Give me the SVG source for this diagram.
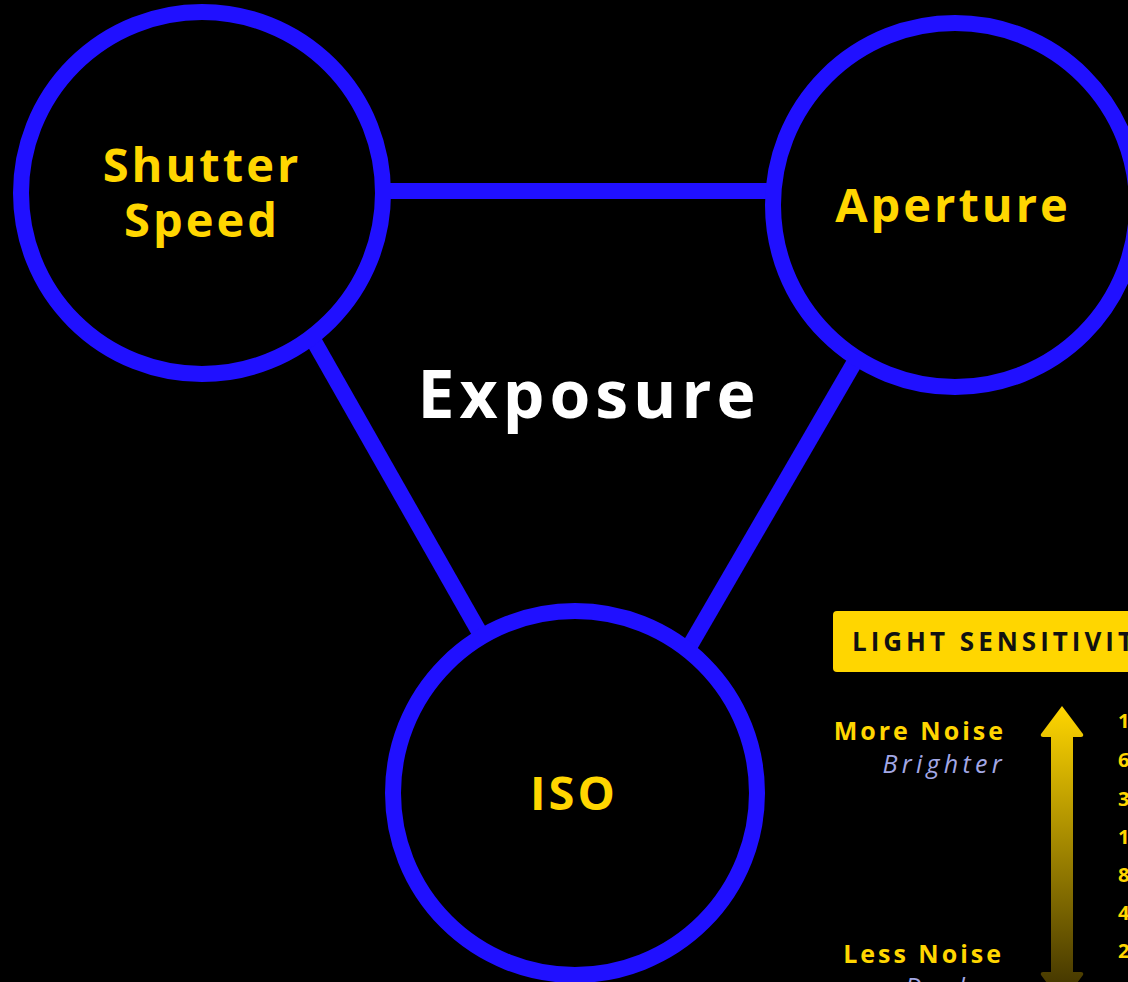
<svg xmlns="http://www.w3.org/2000/svg" width="1128" height="982" viewBox="0 0 1128 982">
<defs>
<style>
.ring{fill:#000;stroke:#2010FF;stroke-width:16}
.conn{stroke:#2010FF;stroke-width:16;fill:none}
.lbl{font-family:"Open Sans","Noto Sans",sans-serif;font-weight:700;fill:#FFD600;font-size:47px;letter-spacing:3px;text-anchor:middle}
.title{font-family:"Open Sans","Noto Sans",sans-serif;font-weight:700;fill:#fff;font-size:66px;letter-spacing:5px;text-anchor:middle}
.hdr{font-family:"Open Sans","Noto Sans",sans-serif;font-weight:700;fill:#111;font-size:26px;letter-spacing:4px}
.side{font-family:"Open Sans","Noto Sans",sans-serif;font-weight:700;fill:#FFD600;font-size:25px;letter-spacing:3px;text-anchor:end}
.sub{font-family:"Open Sans","Noto Sans",sans-serif;font-style:italic;font-weight:400;fill:#A3A8E6;font-size:25px;letter-spacing:4.3px;text-anchor:end}
.num{font-family:"Open Sans","Noto Sans",sans-serif;font-weight:700;fill:#FFD600;font-size:20px}
</style>
<linearGradient id="ag" x1="0" y1="0" x2="0" y2="1">
<stop offset="0" stop-color="#FFD600"/>
<stop offset="1" stop-color="#3A2E00"/>
</linearGradient>
</defs>
<rect width="1128" height="982" fill="#000"/>
<g id="connectors">
<line class="conn" x1="380" y1="191" x2="776" y2="191"/>
<line class="conn" x1="311" y1="336" x2="481" y2="635"/>
<line class="conn" x1="857" y1="358" x2="688" y2="649"/>
</g>
<g id="shutter">
<circle class="ring" cx="202" cy="193" r="181"/>
<text class="lbl" x="202" y="182">Shutter</text>
<text class="lbl" x="202" y="237">Speed</text>
</g>
<g id="aperture">
<circle class="ring" cx="955" cy="205" r="182"/>
<text class="lbl" x="953" y="222">Aperture</text>
</g>
<g id="iso">
<circle class="ring" cx="575" cy="793" r="182"/>
<text class="lbl" x="574" y="810">ISO</text>
</g>
<g id="exposure">
<text class="title" x="589" y="418">Exposure</text>
</g>
<g id="sensitivity">
<rect x="833" y="611" width="320" height="61" rx="4" fill="#FFD600"/>
<text class="hdr" x="852" y="651">LIGHT SENSITIVITY</text>
<text class="side" x="1006" y="740">More Noise</text>
<text class="sub" x="1006" y="773">Brighter</text>
<text class="side" x="1004" y="963">Less Noise</text>
<text class="sub" x="1006" y="996">Darker</text>
<path d="M1062 706 L1083 734 Q1084 737 1081 737 L1073 737 L1073 972 L1081 972 Q1084 972 1083 975 L1062 1003 L1041 975 Q1040 972 1043 972 L1051 972 L1051 737 L1043 737 Q1040 737 1041 734 Z" fill="url(#ag)"/>
<text class="num" x="1118" y="728">12800</text>
<text class="num" x="1118" y="767">6400</text>
<text class="num" x="1118" y="806">3200</text>
<text class="num" x="1118" y="844">1600</text>
<text class="num" x="1118" y="882">800</text>
<text class="num" x="1118" y="920">400</text>
<text class="num" x="1118" y="958">200</text>
</g>
</svg>
